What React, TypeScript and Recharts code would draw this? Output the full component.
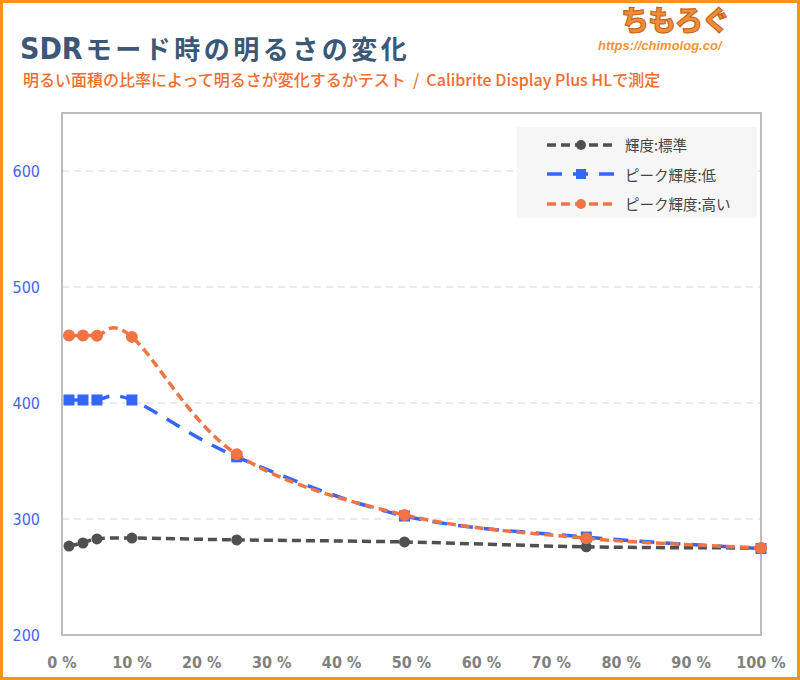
import React from "react";
import {
    LineChart,
    Line,
    XAxis,
    YAxis,
    CartesianGrid,
    Legend,
    ReferenceArea,
} from "recharts";

// measured area ratio (%) and luminance (cd/m2)
const areaRatio = [1, 3, 5, 10, 25, 49, 75, 100];
const standardLum = [276.7, 279.3, 282.8, 283.6, 282, 280.2, 276, 275];
const peakLowLum = [402.6, 402.6, 402.6, 402.6, 353.6, 302.6, 284.4, 274.5];
const peakHighLum = [458.2, 458.2, 458, 457, 355.8, 303.5, 283.4, 275];

const xTicks = [0, 10, 20, 30, 40, 50, 60, 70, 80, 90, 100];
const yTicks = [200, 300, 400, 500, 600];

const seriesNames = ["輝度:標準", "ピーク輝度:低", "ピーク輝度:高い"];

const COLORS = {
    standard: "#505050",
    low: "#3366ff",
    high: "#f07444",
};

const chartData = areaRatio.map((x, i) => ({
    x,
    standard: standardLum[i],
    low: peakLowLum[i],
    high: peakHighLum[i],
}));

const condensed = "'DejaVu Sans Condensed', 'DejaVu Sans', sans-serif";
const jp = "'Noto Sans CJK JP', sans-serif";

// Excel-style smoothed line (Catmull-Rom through the points)
const smoothCurve = (context: any) => {
    let pts: [number, number][] = [];
    return {
        areaStart() {},
        areaEnd() {},
        lineStart() {
            pts = [];
        },
        lineEnd() {
            const n = pts.length;
            if (!n) return;
            context.moveTo(pts[0][0], pts[0][1]);
            for (let i = 0; i < n - 1; i++) {
                const p0 = pts[Math.max(i - 1, 0)];
                const p1 = pts[i];
                const p2 = pts[i + 1];
                const p3 = pts[Math.min(i + 2, n - 1)];
                context.bezierCurveTo(
                    p1[0] + (p2[0] - p0[0]) / 6,
                    p1[1] + (p2[1] - p0[1]) / 6,
                    p2[0] - (p3[0] - p1[0]) / 6,
                    p2[1] - (p3[1] - p1[1]) / 6,
                    p2[0],
                    p2[1]
                );
            }
        },
        point(x: number, y: number) {
            pts.push([x, y]);
        },
    };
};

const SquareDot = (props: any) => {
    const { cx, cy, index } = props;
    if (cx == null || cy == null) return null;
    return (
        <rect
            key={`sq-${index}`}
            x={cx - 5.5}
            y={cy - 5.5}
            width={11}
            height={11}
            fill={COLORS.low}
        />
    );
};

const legendItems = [
    { name: seriesNames[0], color: COLORS.standard, dash: "9 5", marker: "circle" },
    { name: seriesNames[1], color: COLORS.low, dash: "15 11", marker: "square" },
    { name: seriesNames[2], color: COLORS.high, dash: "9 5", marker: "circle" },
];

const renderLegend = () => (
    <div
        style={{
            background: "#f6f6f6",
            width: 240,
            height: 91,
            boxSizing: "border-box",
            padding: "3px 0 0 29px",
        }}
    >
        {legendItems.map((item) => (
            <div
                key={item.name}
                style={{ display: "flex", alignItems: "center", height: 29.5 }}
            >
                <svg width={70} height={14} style={{ marginRight: 9 }}>
                    <line
                        x1={1}
                        x2={69}
                        y1={7}
                        y2={7}
                        stroke={item.color}
                        strokeWidth={3.5}
                        strokeDasharray={item.dash}
                    />
                    {item.marker === "circle" ? (
                        <circle cx={35} cy={7} r={5} fill={item.color} />
                    ) : (
                        <rect x={30} y={2} width={10} height={10} fill={item.color} />
                    )}
                </svg>
                <span style={{ fontFamily: jp, fontSize: 14.5, color: "#444" }}>
                    {item.name}
                </span>
            </div>
        ))}
    </div>
);

export default function App() {
    return (
        <div
            style={{
                position: "absolute",
                left: 0,
                top: 0,
                width: 800,
                height: 680,
                background: "#fff",
                overflow: "hidden",
            }}
        >
            <div
                style={{
                    position: "absolute",
                    left: 20,
                    top: 31.5,
                    fontFamily: jp,
                    fontWeight: 700,
                    fontSize: 26,
                    color: "#3b5877",
                    whiteSpace: "nowrap",
                    lineHeight: "32px",
                }}
            >
                <span style={{ fontFamily: condensed, fontSize: 30, marginRight: 3 }}>
                    SDR
                </span>
                <span style={{ letterSpacing: 3.5 }}>モード時の明るさの変化</span>
            </div>
            <div
                style={{
                    position: "absolute",
                    left: 23,
                    top: 68.5,
                    fontFamily: jp,
                    fontWeight: 500,
                    fontSize: 16,
                    color: "#ee6e2f",
                    whiteSpace: "nowrap",
                    lineHeight: "20px",
                }}
            >
                明るい面積の比率によって明るさが変化するかテスト&nbsp;&nbsp;/&nbsp;&nbsp;Calibrite Display Plus HLで測定
            </div>
            <div
                style={{
                    position: "absolute",
                    left: 621,
                    top: 3,
                    fontFamily: jp,
                    fontWeight: 900,
                    fontSize: 28,
                    lineHeight: "33px",
                    color: "#f28c35",
                    letterSpacing: -1,
                    whiteSpace: "nowrap",
                    WebkitTextStroke: "1px #c0601c",
                }}
            >
                ちもろぐ
            </div>
            <div
                style={{
                    position: "absolute",
                    left: 598,
                    top: 38,
                    fontFamily: "'Liberation Sans', sans-serif",
                    fontWeight: 700,
                    fontStyle: "italic",
                    fontSize: 13,
                    lineHeight: "15px",
                    color: "#f39438",
                    whiteSpace: "nowrap",
                }}
            >
                https://chimolog.co/
            </div>

            <div style={{ position: "absolute", left: 0, top: 0 }}>
                <LineChart
                    width={800}
                    height={680}
                    data={chartData}
                    margin={{ top: 113, right: 39, bottom: 0, left: 0 }}
                >
                    <CartesianGrid
                        vertical={false}
                        stroke="#d4d4d4"
                        strokeDasharray="7 5"
                    />
                    <XAxis
                        dataKey="x"
                        type="number"
                        domain={[0, 100]}
                        ticks={xTicks}
                        tickFormatter={(v) => `${v} %`}
                        axisLine={false}
                        tickLine={false}
                        tickMargin={16}
                        height={45}
                        tick={{
                            fontSize: 16,
                            fontWeight: 700,
                            fill: "#808080",
                            fontFamily: condensed,
                        }}
                        interval={0}
                    />
                    <YAxis
                        type="number"
                        domain={[200, 650]}
                        ticks={yTicks}
                        axisLine={false}
                        tickLine={false}
                        tickMargin={16}
                        width={62}
                        tick={{
                            fontSize: 16,
                            fill: "#4466ee",
                            fontFamily: condensed,
                        }}
                        interval={0}
                    />
                    <ReferenceArea
                        x1={0}
                        x2={100}
                        y1={200}
                        y2={650}
                        fill="none"
                        stroke="#bdbdbd"
                        strokeWidth={2}
                    />
                    <Legend
                        layout="horizontal"
                        verticalAlign="middle"
                        align="center"
                        content={renderLegend}
                        wrapperStyle={{ left: 517, top: 127, width: 240 }}
                    />
                    <Line
                        type={smoothCurve as any}
                        dataKey="standard"
                        name={seriesNames[0]}
                        stroke={COLORS.standard}
                        strokeWidth={3.5}
                        strokeDasharray="9 5"
                        dot={{ r: 5.5, fill: COLORS.standard, stroke: "none", strokeWidth: 0 }}
                        activeDot={false}
                        isAnimationActive={false}
                    />
                    <Line
                        type={smoothCurve as any}
                        dataKey="low"
                        name={seriesNames[1]}
                        stroke={COLORS.low}
                        strokeWidth={3.5}
                        strokeDasharray="15 11"
                        dot={SquareDot}
                        activeDot={false}
                        isAnimationActive={false}
                    />
                    <Line
                        type={smoothCurve as any}
                        dataKey="high"
                        name={seriesNames[2]}
                        stroke={COLORS.high}
                        strokeWidth={3.5}
                        strokeDasharray="9 5"
                        dot={{ r: 6, fill: COLORS.high, stroke: "none", strokeWidth: 0 }}
                        activeDot={false}
                        isAnimationActive={false}
                    />
                </LineChart>
            </div>

            <div
                style={{
                    position: "absolute",
                    left: 0,
                    top: 0,
                    width: 800,
                    height: 680,
                    boxSizing: "border-box",
                    border: "3px solid #f7941d",
                    pointerEvents: "none",
                }}
            />
        </div>
    );
}
